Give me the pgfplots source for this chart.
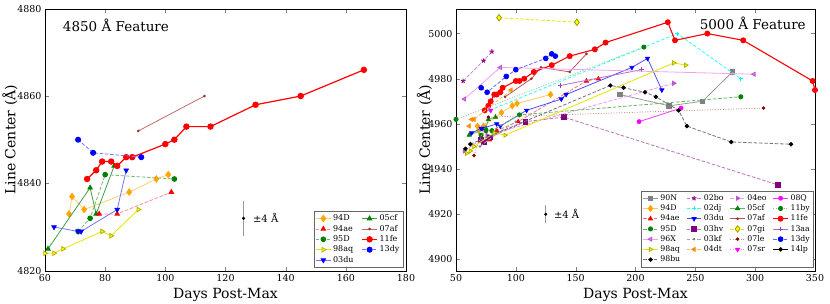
\documentclass[border=0pt]{standalone}
\usepackage{fontspec}
\setmainfont{DejaVu Serif}
\usepackage{pgfplots}
\pgfplotsset{compat=1.18}
\definecolor{mplorange}{HTML}{FFA500}
\definecolor{mplgreen}{HTML}{008000}
\definecolor{mplyellow}{HTML}{FFFF00}
\definecolor{mplbrown}{HTML}{A52A2A}
\definecolor{mplviolet}{HTML}{EE82EE}
\definecolor{mplpurple}{HTML}{800080}
\definecolor{mplmag}{HTML}{FF00FF}
\definecolor{mpldarkred}{HTML}{8B0000}
\definecolor{mplorchid}{HTML}{BA55D3}
\definecolor{mplaa}{HTML}{A040B0}
\definecolor{mplgray}{HTML}{808080}
\definecolor{mpldorange}{HTML}{FF8C00}
\definecolor{mplcyan}{HTML}{00FFFF}
\pgfplotsset{
  mk/.style={mark options={solid, draw=#1, fill=#1}},
  dsh/.style={dash pattern=on 3.5pt off 1.8pt},
  dot/.style={dash pattern=on 1pt off 1.6pt},
  common/.style={
    scale only axis, height=262pt,
    tick align=inside, major tick length=4pt,
    /pgf/number format/assume math mode=true,
    /pgf/number format/1000 sep={},
    tick label style={font=\fontsize{9.5}{11}\selectfont},
    label style={font=\fontsize{14}{16}\selectfont},
    xlabel={Days Post-Max}, ylabel={Line Center (Å)},
    legend cell align=left,
    legend style={font=\fontsize{8}{9.6}\selectfont, draw=black!60, fill=white, inner sep=1.5pt, row sep=-1.2pt},
    legend image code/.code={\draw[mark repeat=2,mark phase=2] plot coordinates {(0cm,0cm)(0.26cm,0cm)(0.52cm,0cm)};},
    clip mode=individual,
    every axis plot/.append style={line width=0.8pt},
  },
}
\begin{document}
\begin{tikzpicture}
\path[use as bounding box] (-45pt,-33pt) rectangle (785pt,270.7pt);
% ---------------- left panel ----------------
\begin{axis}[common, at={(0pt,0pt)}, anchor=south west, width=361pt,
  xmin=60, xmax=180, ymin=4820, ymax=4880,
  xtick={60,80,...,180}, ytick={4820,4840,4860,4880},
  ylabel style={at={(axis description cs:-0.097,0.5)}, anchor=center, rotate=0},
  legend columns=2,
  legend style={at={(0.992,0.012)}, anchor=south east},
  /tikz/every even column/.append style={column sep=6pt},
  mark size=2.6pt]
\addplot[draw=mplorange!55, mark=diamond*, mark size=3.2pt, mk=mplorange] coordinates {(68,4833)(69,4837)(73,4834)(88,4838)(97,4841)(101,4842)};
\addlegendentry{94D}
\addplot[draw=mplgreen!75, mark=triangle*, mk=mplgreen] coordinates {(61,4825)(75,4839)(77,4833)(83,4844)};
\addlegendentry{05cf}
\addplot[draw=red!45, dsh, mark=triangle*, mk=red] coordinates {(78,4833)(84,4833)(102,4838)};
\addlegendentry{94ae}
\addplot[draw=mplbrown!70, mark=*, mark size=0.9pt, mk=mplbrown] coordinates {(91,4852)(113,4860)};
\addlegendentry{07af}
\addplot[draw=mplgreen!55, dsh, mark=*, mark size=2.4pt, mk=mplgreen] coordinates {(71,4829)(75,4832)(80,4842)(103,4841)};
\addlegendentry{95D}
\addplot[draw=red, line width=1.2pt, mark=*, mark size=2.6pt, mk=red] coordinates {(74,4841)(77,4843)(79,4845)(82,4845)(84,4844)(87,4846)(89,4846)(100,4849)(103,4850)(107,4853)(115,4853)(130,4858)(145,4860)(166,4866)};
\addlegendentry{11fe}
\addplot[draw=mplyellow!90!black, mark=triangle*, mark options={solid, rotate=-90, draw=mplyellow!70!black, fill=mplyellow}] coordinates {(60,4824)(63,4824)(66,4825)(79,4829)(82,4828)(91,4834)};
\addlegendentry{98aq}
\addplot[draw=blue!55, dsh, mark=*, mark size=2.6pt, mk=blue] coordinates {(71,4850)(76,4847)(92,4846)};
\addlegendentry{13dy}
\addplot[draw=blue!55, mark=triangle*, mark options={solid, rotate=180, draw=blue, fill=blue}] coordinates {(63,4830)(71,4829)(72,4829)(84,4834)(87,4843)};
\addlegendentry{03du}
\addplot[black, mark=*, mark size=1.1pt, forget plot, error bars/.cd, y dir=both, y explicit, error mark=none, error bar style={draw=black!40, line width=0.9pt}] coordinates {(126,4832) +- (0,4)};
\node[anchor=west, font=\fontsize{10}{12}\selectfont] at (axis cs:128,4832) {±4 Å};
\node[anchor=west, font=\fontsize{13.5}{16}\selectfont] at (axis description cs:0.04,0.935) {4850 Å Feature};
\end{axis}
% ---------------- right panel ----------------
\begin{axis}[common, at={(411pt,0pt)}, anchor=south west, width=359pt,
  xmin=50, xmax=350, ymin=4895, ymax=5011,
  xtick={50,100,...,350}, ytick={4900,4920,...,5000},
  ylabel style={at={(axis description cs:-0.088,0.5)}, anchor=center, rotate=0},
  legend columns=4,
  legend style={at={(0.996,0.014)}, anchor=south east, font=\fontsize{7.8}{9.3}\selectfont},
  /tikz/every even column/.append style={column sep=4pt},
  /tikz/every odd column/.append style={column sep=0pt},
  mark size=2.3pt]
% row 1
\addplot[draw=mplgray!80, mark=square*, mark size=2.2pt, mk=mplgray] coordinates {(187,4973)(228,4968)(256,4970)(281,4983)};
\addlegendentry{90N}
\addplot[draw=mplorchid!80, dsh, mark=star, mark size=2.4pt, mark options={solid, draw=mplpurple!80!mplorchid, line width=1pt}] coordinates {(56,4979)(73,4988)(80,4992)};
\addlegendentry{02bo}
\addplot[draw=mplviolet!85, dsh, mark=triangle*, mark options={solid, rotate=-90, draw=mplorchid, fill=mplorchid}] coordinates {(57,4948)(76,4955)(232,4978)};
\addlegendentry{04eo}
\addplot[draw=mplmag!80, mark=*, mark size=2pt, mk=mplmag] coordinates {(203,4961)(238,4967)};
\addlegendentry{08Q}
% row 2
\addplot[draw=mplorange!60, mark=diamond*, mark size=3pt, mk=mplorange] coordinates {(68,4959)(69,4957)(73,4959)(88,4965)(97,4968)(101,4969)(129,4973)};
\addlegendentry{94D}
\addplot[draw=mplcyan!80, dsh, mark=+, mark size=2pt, mark options={solid, draw=mplcyan}] coordinates {(78,4966)(235,5000)(288,4980)};
\addlegendentry{02dj}
\addplot[draw=mplgreen!60, mark=triangle*, mk=mplgreen] coordinates {(61,4955)(75,4958)(77,4962)(83,4963)};
\addlegendentry{05cf}
\addplot[draw=mplgreen!45, dot, mark=*, mark size=2.1pt, mk=mplgreen] coordinates {(50,4962)(207,4994)};
\addlegendentry{11by}
% row 3
\addplot[draw=red!55, dsh, mark=triangle*, mk=red] coordinates {(78,4953)(84,4957)(102,4961)(159,4979)(169,4980)};
\addlegendentry{94ae}
\addplot[draw=blue!70, mark=triangle*, mark options={solid, rotate=180, draw=blue, fill=blue}] coordinates {(63,4956)(71,4958)(72,4958)(84,4960)(87,4959)(109,4966)(138,4971)(142,4973)(197,4985)(210,4989)(222,4975)};
\addlegendentry{03du}
\addplot[draw=mplbrown!80, mark=*, mark size=0.9pt, mk=mplbrown] coordinates {(91,4972)(113,4980)(121,4985)(145,4983)(159,4991)};
\addlegendentry{07af}
\addplot[draw=red, line width=1.1pt, mark=*, mark size=2.4pt, mk=red] coordinates {(74,4966)(77,4968)(79,4970)(82,4973)(84,4973)(87,4974)(89,4976)(100,4979)(103,4979)(107,4980)(115,4983)(130,4986)(145,4990)(166,4993)(175,4996)(227,5005)(233,4997)(260,5000)(290,4997)(348,4979)(350,4975)};
\addlegendentry{11fe}
% row 4
\addplot[draw=mplgreen!60, dsh, mark=*, mark size=2.1pt, mk=mplgreen] coordinates {(71,4955)(75,4957)(80,4957)(103,4964)(288,4972)};
\addlegendentry{95D}
\addplot[draw=mplpurple!55, dsh, mark=square*, mark size=2.4pt, mk=mplpurple] coordinates {(71,4953)(73,4952)(78,4954)(108,4961)(140,4963)(319,4933)};
\addlegendentry{03hv}
\addplot[draw=mplyellow!90!black, dsh, mark=diamond*, mark size=3.2pt, mark options={solid, draw=mplyellow!60!black, fill=mplyellow}] coordinates {(86,5007)(151,5005)};
\addlegendentry{07gi}
\addplot[draw=mplaa!75, mark=+, mark size=2.2pt, mark options={solid, draw=mplaa}] coordinates {(137,4977)(205,4984)};
\addlegendentry{13aa}
% row 5
\addplot[draw=mplviolet!75, mark=triangle*, mark options={solid, rotate=90, draw=mplorchid, fill=mplorchid!70}] coordinates {(57,4971)(87,4985)(299,4982)};
\addlegendentry{96X}
\addplot[draw=mplgray!70, dsh, mark=*, mark size=0.8pt, mk=mplgray] coordinates {(70,4950)(85,4956)(100,4961)};
\addlegendentry{03kf}
\addplot[draw=mpldarkred!45, dot, mark=*, mark size=1.3pt, mk=mpldarkred] coordinates {(65,4946)(77,4963)(307,4967)};
\addlegendentry{07le}
\addplot[draw=blue!60, dsh, mark=*, mark size=2.4pt, mk=blue] coordinates {(71,4976)(76,4974)(92,4981)(100,4984)(125,4989)(130,4991)(133,4990)};
\addlegendentry{13dy}
% row 6
\addplot[draw=mplyellow!90!black, mark=triangle*, mark options={solid, rotate=-90, draw=mplyellow!70!black, fill=mplyellow}] coordinates {(59,4947)(62,4948)(65,4950)(82,4956)(91,4955)(232,4987)(242,4986)};
\addlegendentry{98aq}
\addplot[draw=mpldorange!60, dsh, mark=triangle*, mark options={solid, rotate=90, draw=mpldorange, fill=mpldorange}] coordinates {(61,4959)(63,4962)(65,4962)(96,4975)};
\addlegendentry{04dt}
\addplot[draw=mplmag!45, dot, mark=triangle*, mark options={solid, rotate=180, draw=mplmag, fill=mplmag}] coordinates {(79,4966)};
\addlegendentry{07sr}
\addplot[draw=black, mark=*, mark size=1.8pt, mk=black] coordinates {(58,4949)};
\addlegendentry{14lp}
% row 7
\addplot[draw=black!55, dsh, mark=*, mark size=1.8pt, mk=black] coordinates {(62,4951)(179,4977)(190,4976)(208,4974)(217,4972)(236,4966)(243,4959)(280,4952)(330,4951)};
\addlegendentry{98bu}
\addplot[black, mark=*, mark size=1.1pt, forget plot, error bars/.cd, y dir=both, y explicit, error mark=none, error bar style={draw=black!40, line width=0.9pt}] coordinates {(125,4920) +- (0,4)};
\node[anchor=west, font=\fontsize{10}{12}\selectfont] at (axis cs:129,4920) {±4 Å};
\node[anchor=east, font=\fontsize{13.5}{16}\selectfont] at (axis description cs:0.984,0.944) {5000 Å Feature};
\end{axis}
\end{tikzpicture}
\end{document}
